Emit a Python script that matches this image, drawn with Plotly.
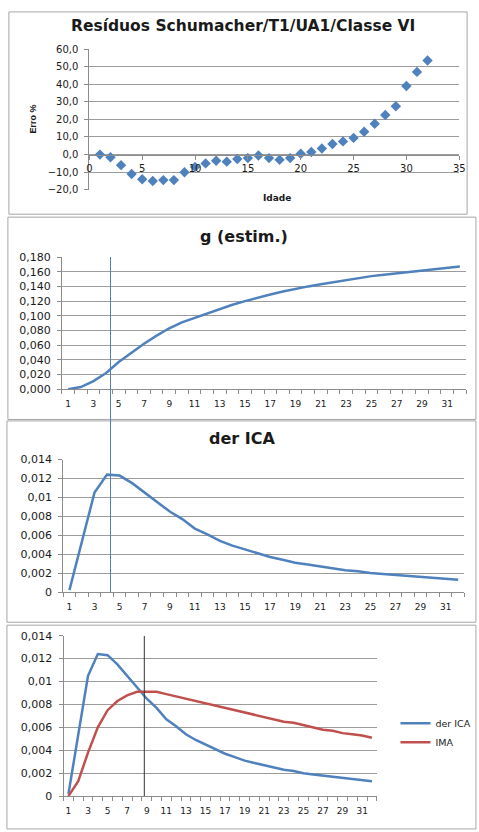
import plotly.graph_objects as go

# ---------------- data ----------------
idade = list(range(1, 33))
residuos = [0.0, -1.5, -6.0, -11.0, -14.0, -15.0, -14.5, -14.5, -10.0, -7.0,
            -5.0, -3.5, -4.0, -2.5, -2.0, -0.5, -2.0, -3.0, -2.0, 0.5,
            1.5, 3.5, 6.0, 7.5, 9.5, 13.0, 17.5, 22.5, 27.5, 39.0,
            47.0, 53.5]
g_estim = [0.000, 0.003, 0.011, 0.022, 0.037, 0.050, 0.062, 0.073, 0.083, 0.091,
           0.097, 0.104, 0.110, 0.115, 0.120, 0.125, 0.129, 0.133, 0.137, 0.140,
           0.143, 0.146, 0.149, 0.151, 0.154, 0.156, 0.158, 0.160, 0.161, 0.163,
           0.165, 0.167]
der_ica = [0.0002, 0.0054, 0.0105, 0.0124, 0.0123, 0.0115, 0.0105, 0.0095, 0.0085, 0.0077,
           0.0067, 0.0061, 0.0054, 0.0049, 0.0045, 0.0041, 0.0037, 0.0034, 0.0031, 0.0029,
           0.0027, 0.0025, 0.0023, 0.0022, 0.0020, 0.0019, 0.0018, 0.0017, 0.0016, 0.0015,
           0.0014, 0.0013]
ima = [0.0000, 0.0013, 0.0038, 0.0060, 0.0075, 0.0083, 0.0088, 0.0091, 0.0091, 0.0091,
       0.0089, 0.0087, 0.0085, 0.0083, 0.0081, 0.0079, 0.0077, 0.0075, 0.0073, 0.0071,
       0.0069, 0.0067, 0.0065, 0.0064, 0.0062, 0.0060, 0.0058, 0.0057, 0.0055, 0.0054,
       0.0053, 0.0051]
vline_max_ica = 4.35
vline_cross = 8.75
cat_ticks = list(range(1, 32, 2))
small_ticks = [0, 0.002, 0.004, 0.006, 0.008, 0.01, 0.012, 0.014]
small_labels = ["0", "0,002", "0,004", "0,006", "0,008", "0,01", "0,012", "0,014"]

# ---------------- layout helpers ----------------
W, H = 479, 832
def px(x): return x / W
def py(y): return 1 - y / H

BLUE = "#4F81BD"
RED = "#C0504D"
GRID = "#9C9C9C"
AX = "#8C8C8C"
TXT = "#1a1a1a"
FONT = "DejaVu Sans"

fig = go.Figure()
fig.add_trace(go.Scatter(x=idade, y=residuos, mode="markers",
                         marker=dict(symbol="diamond", size=8, color=BLUE),
                         xaxis="x", yaxis="y", showlegend=False))
fig.add_trace(go.Scatter(x=idade, y=g_estim, mode="lines",
                         line=dict(color=BLUE, width=2.5),
                         xaxis="x2", yaxis="y2", showlegend=False))
fig.add_trace(go.Scatter(x=idade, y=der_ica, mode="lines",
                         line=dict(color=BLUE, width=2.5),
                         xaxis="x3", yaxis="y3", showlegend=False))
fig.add_trace(go.Scatter(x=idade, y=der_ica, mode="lines", name="der ICA",
                         line=dict(color=BLUE, width=2.5),
                         xaxis="x4", yaxis="y4"))
fig.add_trace(go.Scatter(x=idade, y=ima, mode="lines", name="IMA",
                         line=dict(color=RED, width=2.5),
                         xaxis="x4", yaxis="y4"))

tickfont = dict(family=FONT, size=10, color=TXT)
cat_font = dict(family=FONT, size=9, color=TXT)

def yax(dom, rng, **kw):
    d = dict(domain=dom, range=rng, showgrid=True, gridcolor=GRID, gridwidth=1,
             showline=True, linecolor=AX, linewidth=1, ticks="outside", ticklen=4,
             tickcolor=AX, tickfont=dict(family=FONT, size=11, color=TXT),
             ticklabelstandoff=4, zeroline=False, fixedrange=True)
    d.update(kw)
    return d

def catx(dom, anchor):
    return dict(domain=dom, range=[0.5, 32.5], tickvals=cat_ticks, ticks="",
                showgrid=False, zeroline=False, showline=True, linecolor=AX,
                linewidth=1, tickfont=cat_font, anchor=anchor, ticklabelstandoff=6,
                minor=dict(ticks="outside", ticklen=4, tick0=0.5, dtick=1, tickcolor=AX),
                fixedrange=True)

# panel 1
y1_dom = [py(186.7), py(43.7)]
y1_rng = [-20, 60]
zero_pos = y1_dom[0] + (0 - y1_rng[0]) / (y1_rng[1] - y1_rng[0]) * (y1_dom[1] - y1_dom[0])

fig.update_layout(
    width=W, height=H, margin=dict(l=0, r=0, t=0, b=0),
    paper_bgcolor="white", plot_bgcolor="rgba(0,0,0,0)",
    separators=",.",
    font=dict(family=FONT, color=TXT),
    xaxis=dict(domain=[px(88), px(465)], range=[0, 35], dtick=5, anchor="free",
               position=zero_pos, showline=True, linecolor=AX, ticks="outside",
               ticklen=4, tickcolor=AX, showgrid=False, zeroline=False,
               tickfont=tickfont, fixedrange=True),
    yaxis=yax(y1_dom, y1_rng, dtick=10, tickformat=".1f",
              tickfont=dict(family=FONT, size=10, color=TXT)),
    xaxis2=catx([px(60), px(472)], "y2"),
    yaxis2=yax([py(389.3), py(255)], [0, 0.18], dtick=0.02, tickformat=".3f", anchor="x2"),
    xaxis3=catx([px(61.3), px(470.3)], "y3"),
    yaxis3=yax([py(595.3), py(460.7)], [0, 0.014], tickvals=small_ticks,
               ticktext=small_labels, anchor="x3"),
    xaxis4=catx([px(61.7), px(381)], "y4"),
    yaxis4=yax([py(802.7), py(639.7)], [0, 0.014], tickvals=small_ticks,
               ticktext=small_labels, anchor="x4"),
    showlegend=True,
    legend=dict(x=px(400), y=py(714), xanchor="left", yanchor="top",
                font=dict(family=FONT, size=9.5, color=TXT), itemwidth=30,
                bgcolor="rgba(0,0,0,0)", tracegroupgap=2),
)

shapes = []
BORDER = "#A6A6A6"
# panel borders
shapes.append(dict(type="rect", xref="paper", yref="paper", x0=px(6), x1=px(473),
                   y0=py(211.5), y1=py(6), line=dict(color=BORDER, width=1)))
shapes.append(dict(type="rect", xref="paper", yref="paper", x0=px(5), x1=px(482),
                   y0=py(420), y1=py(214.5), line=dict(color=BORDER, width=1)))
shapes.append(dict(type="rect", xref="paper", yref="paper", x0=px(4), x1=px(482),
                   y0=py(626), y1=py(421.5), line=dict(color=BORDER, width=1)))
shapes.append(dict(type="rect", xref="paper", yref="paper", x0=px(4), x1=px(482),
                   y0=py(836), y1=py(629), line=dict(color=BORDER, width=1)))
# vertical marker lines
shapes.append(dict(type="line", xref="x2", yref="paper", x0=vline_max_ica, x1=vline_max_ica,
                   y0=py(595.3), y1=py(255), line=dict(color=BLUE, width=1)))
shapes.append(dict(type="line", xref="x4", yref="y4", x0=vline_cross, x1=vline_cross,
                   y0=0, y1=0.014, line=dict(color="#333333", width=1)))
fig.update_layout(shapes=shapes)

def label(text, x, y, size, family=FONT, angle=0):
    return dict(text=text, x=px(x), y=py(y), xref="paper", yref="paper",
                xanchor="center", yanchor="middle", showarrow=False, textangle=angle,
                font=dict(family=family, size=size, color=TXT))

ann = [
    label("<b>Resíduos Schumacher/T1/UA1/Classe VI</b>", 244.5, 20, 15.5),
    label("<b>Idade</b>", 279, 195, 9),
    label("<b>Erro %</b>", 31, 115, 9, family="Liberation Sans", angle=-90),
    label("<b>g (estim.)</b>", 246, 234, 16),
    label("<b>der ICA</b>", 244, 439, 16),
]
fig.update_layout(annotations=ann)

fig.write_html("out.html", config={"displayModeBar": False},
               post_script="document.body.style.margin='0';")
